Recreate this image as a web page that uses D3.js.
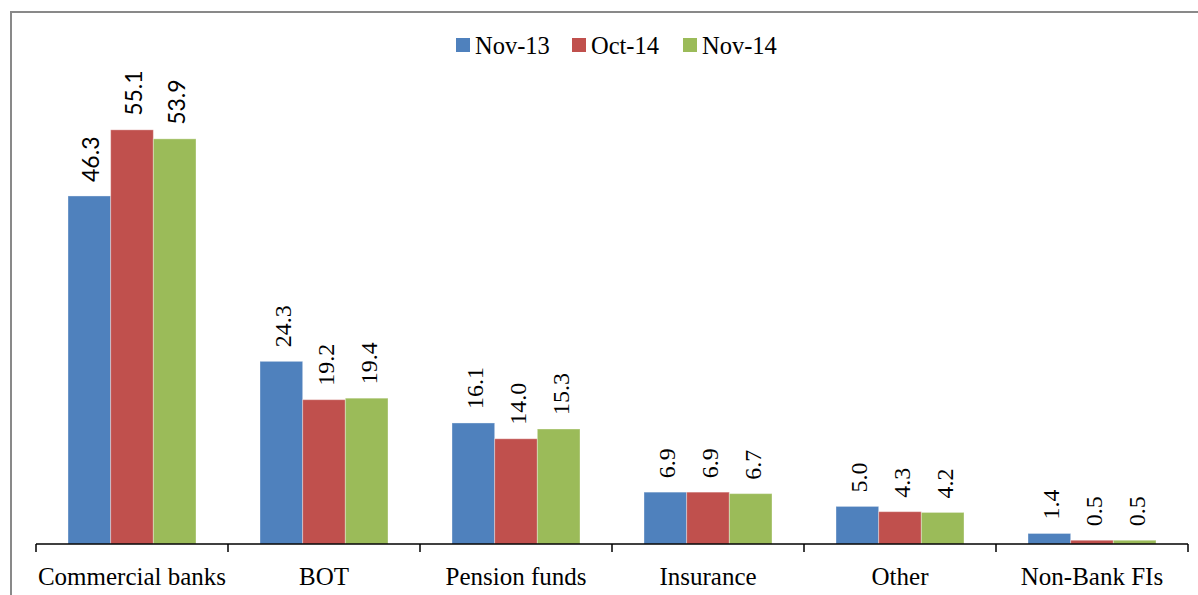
<!DOCTYPE html>
<html>
<head>
<meta charset="utf-8">
<script src="https://cdn.jsdelivr.net/npm/d3@7"></script>
<style>
  body { margin: 0; background: #fff; }
  svg { display: block; }
</style>
</head>
<body>
<svg id="chart" width="1198" height="595" font-family="'Liberation Serif', 'DejaVu Serif', serif"></svg>
<script>
const categories = ['Commercial banks', 'BOT', 'Pension funds', 'Insurance', 'Other', 'Non-Bank FIs'];
const seriesNames = ['Nov-13', 'Oct-14', 'Nov-14'];
const nov13 = [46.3, 24.3, 16.1, 6.9, 5.0, 1.4];
const oct14 = [55.1, 19.2, 14.0, 6.9, 4.3, 0.5];
const nov14 = [53.9, 19.4, 15.3, 6.7, 4.2, 0.5];
const colors = ['#4F81BD', '#C0504D', '#9BBB59'];

const seriesValues = [nov13, oct14, nov14];

const W = 1198, H = 595;
const plotLeft = 36, plotRight = 1188, plotBase = 544, plotTop = 93;

const svg = d3.select('#chart');

// frame round the chart (only top and left edges show)
svg.append('path')
  .attr('d', `M11,${H} L11,12 L${W},12`)
  .attr('fill', 'none')
  .attr('stroke', '#898989')
  .attr('stroke-width', 2);

const x0 = d3.scaleBand().domain(categories).range([plotLeft, plotRight]).padding(0);
const bw = x0.bandwidth();
const x1 = d3.scaleBand().domain(seriesNames).range([bw / 6, bw * 5 / 6]).padding(0);
const y = d3.scaleLinear().domain([0, 60]).range([plotBase, plotTop]);

const rows = categories.map((c, i) => ({
  cat: c,
  first: i === 0,
  vals: seriesNames.map((s, j) => ({ s, j, i, v: seriesValues[j][i] }))
}));

const groups = svg.append('g')
  .selectAll('g')
  .data(rows)
  .join('g')
  .attr('transform', d => `translate(${x0(d.cat)},0)`);

groups.selectAll('rect')
  .data(d => d.vals)
  .join('rect')
  .attr('x', d => x1(d.s))
  .attr('y', d => y(d.v))
  .attr('width', x1.bandwidth())
  .attr('height', d => plotBase - y(d.v))
  .attr('fill', d => colors[d.j])
  .attr('stroke', '#fff')
  .attr('stroke-opacity', 0.35)
  .attr('stroke-width', 1);

// value labels: the first group uses a sans face in the original
groups.selectAll('text')
  .data(d => d.vals)
  .join('text')
  .attr('transform', d => `translate(${x1(d.s) + x1.bandwidth() / 2 + 10},${y(d.v) - 14}) rotate(-90)`)
  .attr('font-family', d => d.i === 0 ? "Lato, 'Open Sans', sans-serif" : null)
  .attr('font-size', d => d.i === 0 ? 23 : 24)
  .text(d => d.v.toFixed(1));

// x axis with ticks between categories
const ticks = categories.map(c => x0(c)).concat([plotRight]);
svg.append('line')
  .attr('x1', plotLeft).attr('x2', plotRight)
  .attr('y1', plotBase).attr('y2', plotBase)
  .attr('stroke', '#000').attr('stroke-width', 1.5);
svg.append('g')
  .selectAll('line')
  .data(ticks)
  .join('line')
  .attr('x1', d => d).attr('x2', d => d)
  .attr('y1', plotBase).attr('y2', plotBase + 8)
  .attr('stroke', '#000').attr('stroke-width', 1.5);

svg.append('g')
  .selectAll('text')
  .data(categories)
  .join('text')
  .attr('x', d => x0(d) + bw / 2)
  .attr('y', 585)
  .attr('text-anchor', 'middle')
  .attr('font-size', 25)
  .text(d => d);

// legend
const legendX = [456, 572, 683];
const legend = svg.append('g')
  .selectAll('g')
  .data(seriesNames)
  .join('g')
  .attr('transform', (d, i) => `translate(${legendX[i]},38)`);
legend.append('rect')
  .attr('width', 14).attr('height', 14)
  .attr('fill', (d, i) => colors[i]);
legend.append('text')
  .attr('x', 19).attr('y', 16)
  .attr('font-size', 24.5)
  .text(d => d);
</script>
</body>
</html>
